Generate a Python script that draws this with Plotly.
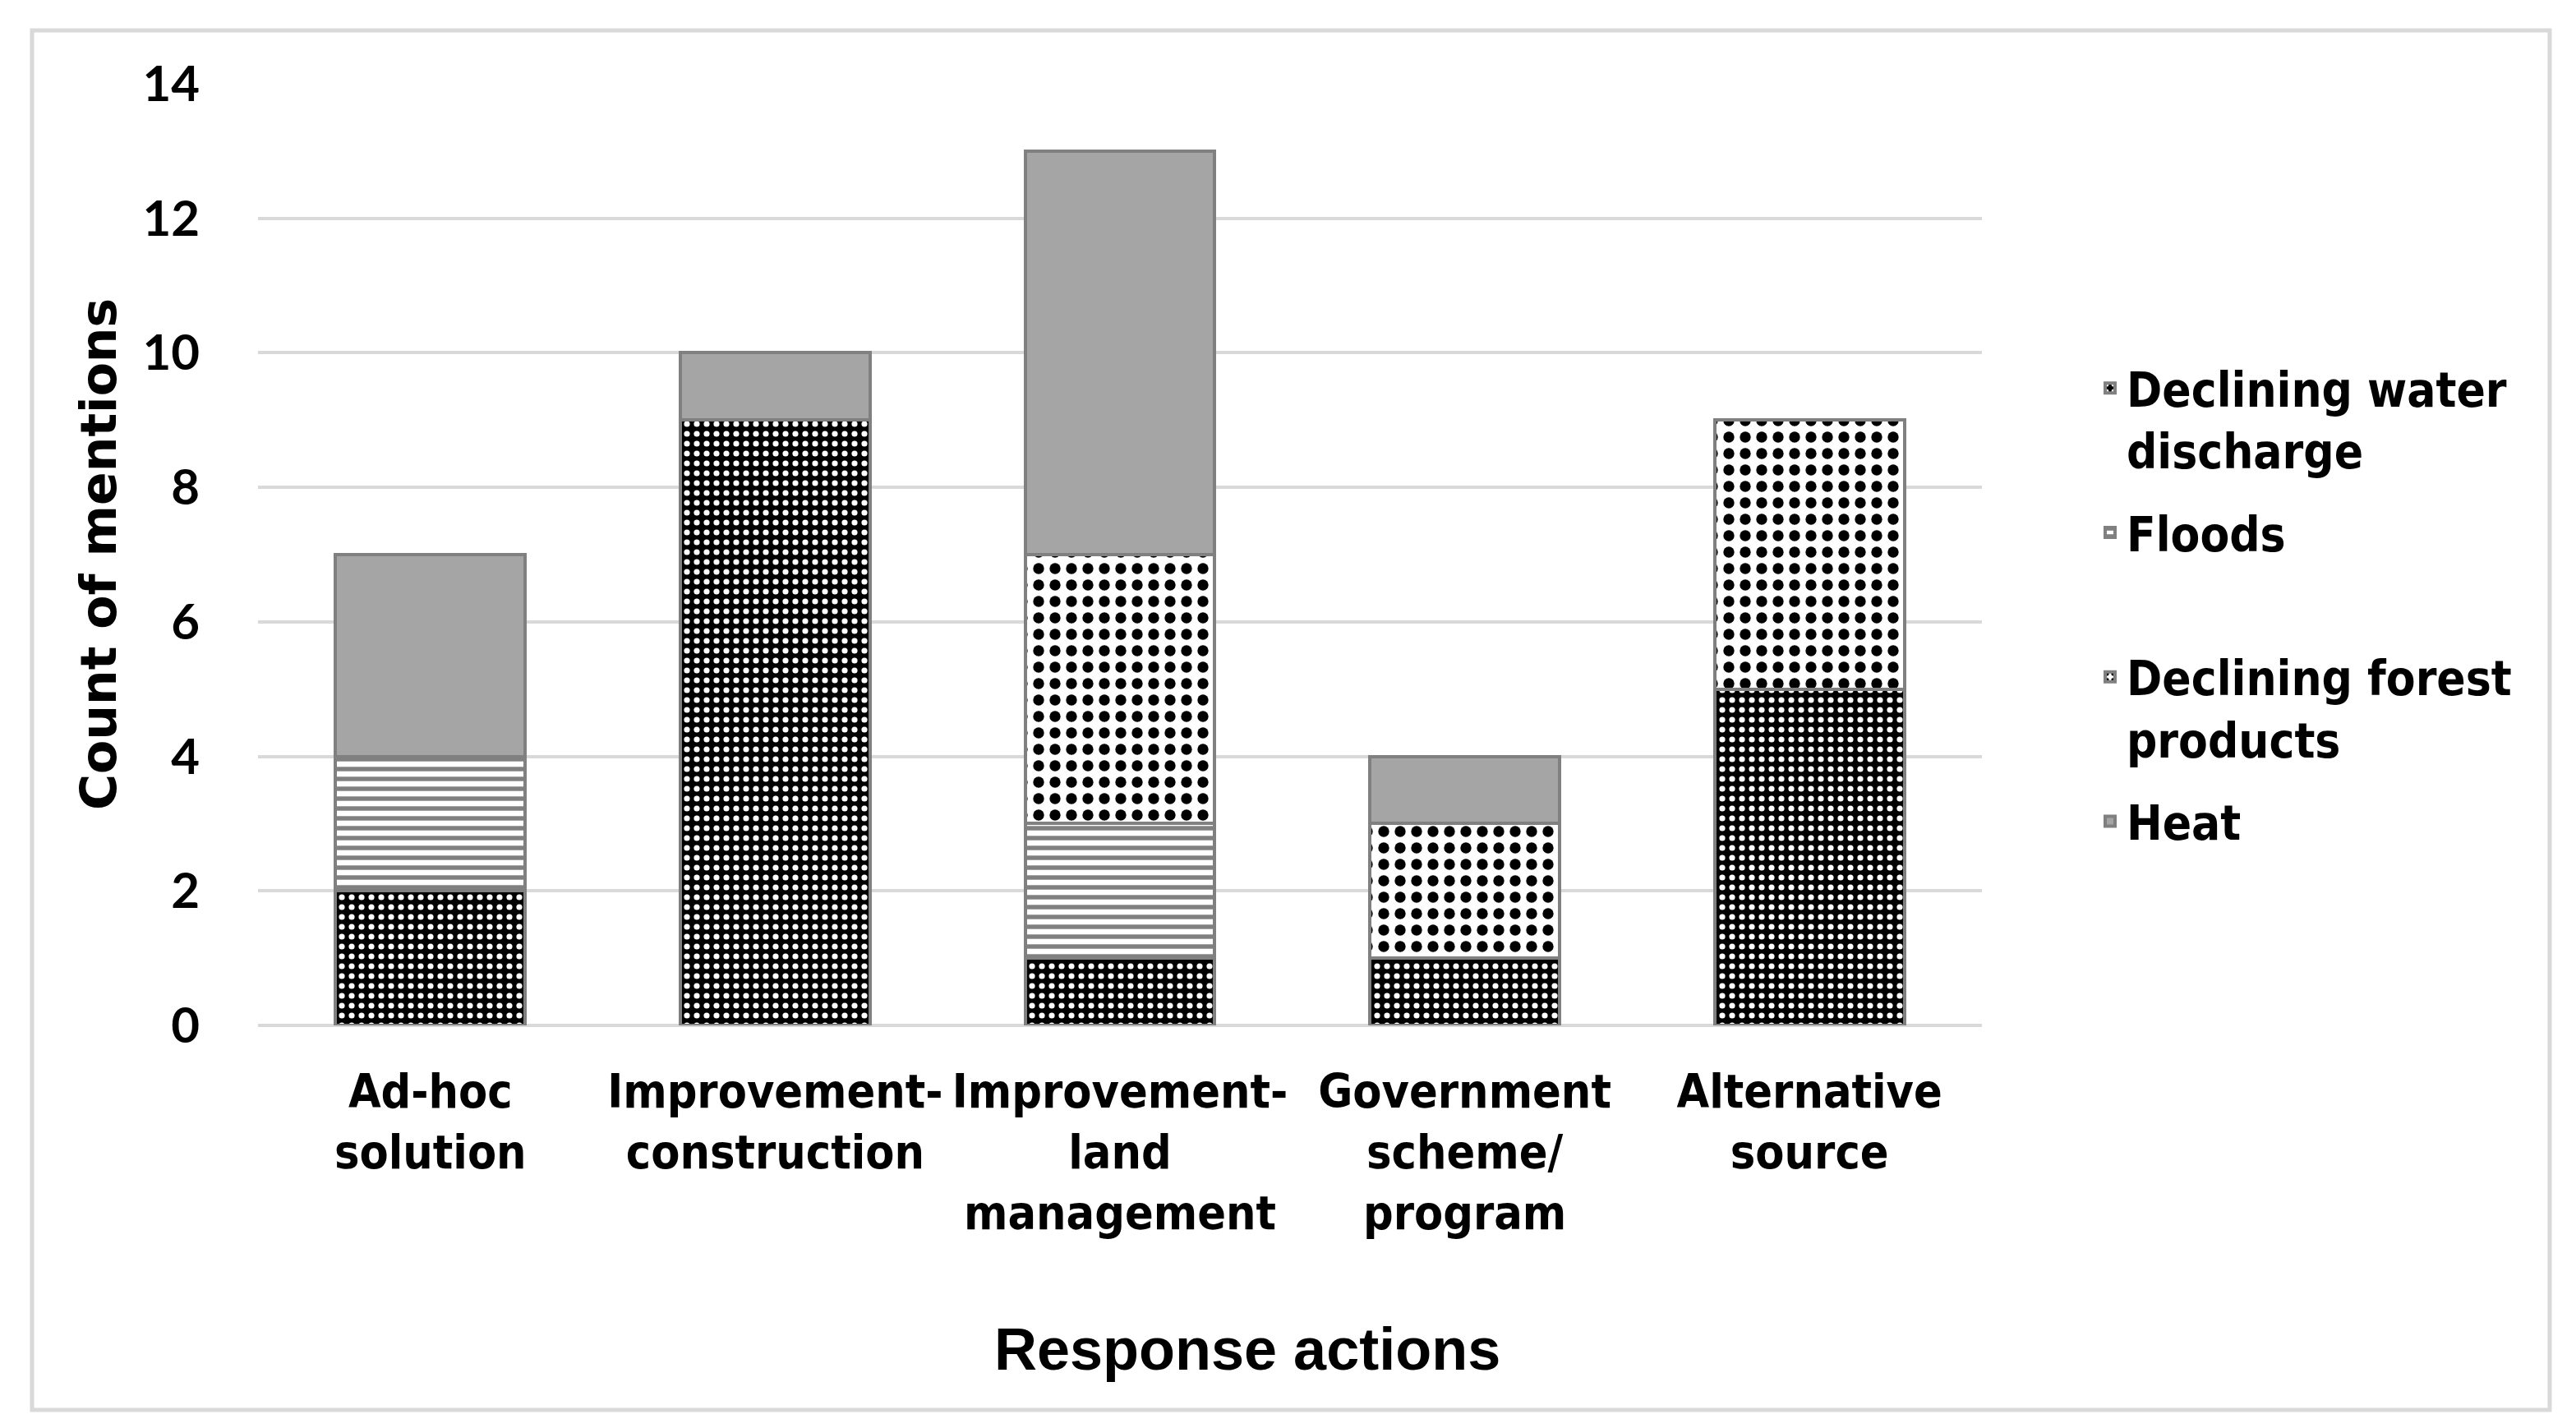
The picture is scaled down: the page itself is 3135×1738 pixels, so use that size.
import plotly.graph_objects as go

# ---- data ----
categories = ["Ad-hoc<br>solution", "Improvement-<br>construction", "Improvement-<br>land<br>management",
              "Government<br>scheme/<br>program", "Alternative<br>source"]
series_names = ["Declining water<br>discharge", "Floods<br> ", "Declining forest<br>products", "Heat<br> "]
water = [2, 9, 1, 1, 5]
floods = [2, 0, 2, 0, 0]
forest = [0, 0, 4, 2, 4]
heat = [3, 1, 6, 1, 0]
y_ticks = [0, 2, 4, 6, 8, 10, 12, 14]

W, H = 3135, 1738
L, R, T, B = 306, 2404, 94, 1240  # plot area in px
pw, ph = R - L, B - T

def px(x):
    return (x - L) / pw

def py(y):
    return (B - y) / ph

OUTLINE = dict(color="#808080", width=4)
styles = [
    dict(shape=".", bgcolor="black", fgcolor="white", size=12, solidity=0.28),
    dict(shape="-", bgcolor="white", fgcolor="#808080", size=12, solidity=0.45),
    dict(shape=".", bgcolor="white", fgcolor="black", size=20, solidity=0.35),
    None,
]
values = [water, floods, forest, heat]

fig = go.Figure()
for name, vals, st in zip(series_names, values, styles):
    marker = dict(line=OUTLINE)
    if st is None:
        marker["color"] = "#A5A5A5"
    else:
        marker["color"] = st["bgcolor"]
        marker["pattern"] = dict(shape=st["shape"], bgcolor=st["bgcolor"], fgcolor=st["fgcolor"],
                                 size=st["size"], solidity=st["solidity"], fillmode="replace")
    fig.add_trace(go.Bar(x=categories, y=vals, name=name, marker=marker, legendgroup=name))

label_font = "Liberation Sans Narrow, DejaVu Sans Condensed, Liberation Sans, sans-serif"

fig.update_layout(
    width=W, height=H,
    margin=dict(l=L, r=W - R, t=T, b=H - B),
    barmode="stack", bargap=0.45,
    plot_bgcolor="white", paper_bgcolor="white",
    showlegend=True,
    legend=dict(x=px(2540), y=py(420), xanchor="left", yanchor="top",
                traceorder="grouped", valign="top",
                font=dict(family=label_font, size=58, color="black", weight="bold"),
                tracegroupgap=22),
    xaxis=dict(showgrid=False, showline=False, ticks="", tickangle=0,
               tickfont=dict(family=label_font, size=57, color="black", weight="bold"),
               ticklabelstandoff=42),
    yaxis=dict(range=[0, 14], tickvals=y_ticks, showgrid=True, gridcolor="#D9D9D9", gridwidth=4,
               zeroline=True, zerolinecolor="#D9D9D9", zerolinewidth=4, showline=False, ticks="",
               tickfont=dict(family="Lato, Open Sans, sans-serif", size=60, color="black", weight="bold"),
               ticklabelstandoff=70),
    shapes=[dict(type="rect", xref="paper", yref="paper",
                 x0=px(31), x1=px(3095), y0=py(1708), y1=py(29),
                 line=dict(color="#D9D9D9", width=5), fillcolor="rgba(0,0,0,0)", layer="below")],
    annotations=[
        dict(text="Response actions", xref="paper", yref="paper", x=px(1510), y=py(1634),
             xanchor="center", yanchor="middle", showarrow=False,
             font=dict(family="Liberation Sans, Arial, sans-serif", size=72, color="black", weight="bold")),
        dict(text="Count of mentions", xref="paper", yref="paper", x=px(112), y=0.5,
             xanchor="center", yanchor="middle", showarrow=False, textangle=-90,
             font=dict(family="DejaVu Sans, sans-serif", size=60, color="black", weight="bold")),
    ],
)

fig.write_html("out.html")
